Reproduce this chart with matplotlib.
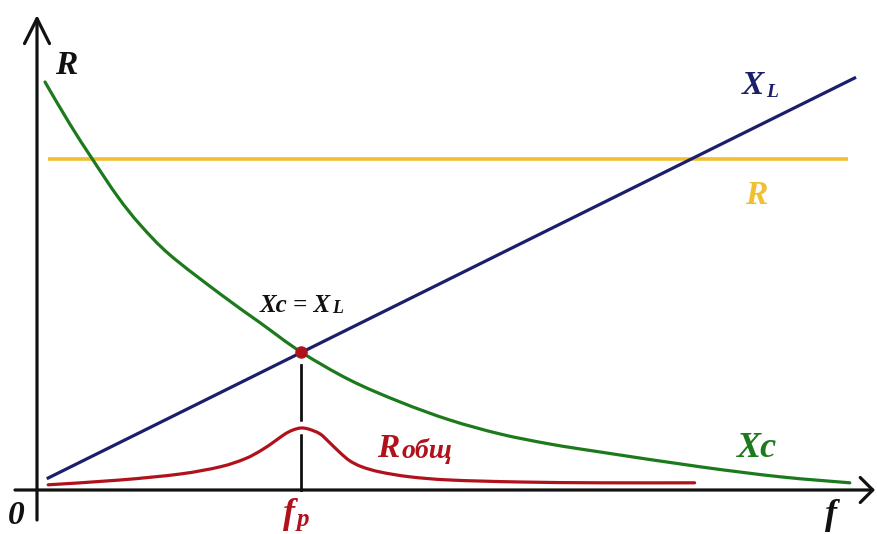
import numpy as np
import matplotlib.pyplot as plt
import matplotlib.patheffects as pe
from matplotlib.path import Path
from matplotlib.patches import PathPatch

plt.rcParams["font.family"] = ["Liberation Serif", "DejaVu Serif"]

# frequency f and resistance/reactance in arbitrary units
XL_F = [0.14, 10.22]
XL_VAL = [0.30, 10.30]

R_F = [0.14, 10.14]
R_VAL = [8.28, 8.28]

XC_F = [0.10, 0.41, 0.69, 1.01, 1.29, 1.66, 2.29, 2.79, 3.30, 3.91, 4.54,
        5.16, 5.79, 6.41, 7.04, 8.29, 9.29, 10.16]
XC_VAL = [10.20, 9.15, 8.28, 7.33, 6.63, 5.88, 4.90, 4.18, 3.45, 2.75, 2.20,
          1.75, 1.40, 1.15, 0.95, 0.58, 0.33, 0.18]

RT_F = [0.14, 1.04, 1.79, 2.29, 2.60, 2.81, 2.98, 3.10, 3.20, 3.30, 3.40,
        3.54, 3.66, 3.79, 3.91, 4.06, 4.29, 4.66, 5.16, 6.04, 7.04, 8.22]
RT_VAL = [0.13, 0.25, 0.40, 0.58, 0.78, 1.00, 1.23, 1.40, 1.50, 1.55, 1.52,
          1.40, 1.18, 0.93, 0.73, 0.58, 0.45, 0.33, 0.25, 0.20, 0.18, 0.18]

F_RES = 3.30      # resonance frequency f_p
X_RES = 3.45      # Xc = XL at resonance

NAVY = "#1b1f6b"
GOLD = "#f0c030"
GREEN = "#1c7a1c"
CRIMSON = "#b0121c"
INK = "#111111"


def smooth_curve(xs, ys, **kw):
    """Draw a curve through the points as Catmull-Rom style cubic Beziers."""
    p = np.column_stack([xs, ys]).astype(float)
    n = len(p)
    verts = [p[0]]
    codes = [Path.MOVETO]
    for i in range(n - 1):
        p0 = p[i - 1] if i > 0 else p[i]
        p1, p2 = p[i], p[i + 1]
        p3 = p[i + 2] if i + 2 < n else p[i + 1]
        verts += [p1 + (p2 - p0) / 6, p2 - (p3 - p1) / 6, p2]
        codes += [Path.CURVE4] * 3
    patch = PathPatch(Path(verts, codes), fill=False, capstyle="round",
                      joinstyle="round", **kw)
    ax.add_patch(patch)
    return patch


fig = plt.figure(figsize=(8.77, 5.34), dpi=100)
ax = fig.add_axes([0, 0, 1, 1])
ax.set_xlim(-0.4625, 10.5)
ax.set_ylim(-1.1, 12.25)
ax.axis("off")

# coordinate axes with open arrow heads
ax.annotate("", xy=(0, 11.875), xytext=(0, -0.75),
            arrowprops=dict(arrowstyle="->,head_length=0.9,head_width=0.45",
                            lw=2.3, color=INK, shrinkA=0, shrinkB=0,
                            mutation_scale=20), zorder=6)
ax.annotate("", xy=(10.475, 0), xytext=(-0.275, 0),
            arrowprops=dict(arrowstyle="->,head_length=0.45,head_width=0.45",
                            lw=2.3, color=INK, shrinkA=0, shrinkB=0,
                            mutation_scale=20), zorder=6)

# marker from the crossing point down to f_p
ax.plot([F_RES, F_RES], [X_RES - 0.33, 0], color=INK, lw=2.0, zorder=1)

ax.plot(R_F, R_VAL, color=GOLD, lw=2.6, solid_capstyle="butt", zorder=2)
smooth_curve(RT_F, RT_VAL, edgecolor=CRIMSON, lw=2.3, zorder=3,
             path_effects=[pe.Stroke(linewidth=9, foreground="white"), pe.Normal()])
smooth_curve(XC_F, XC_VAL, edgecolor=GREEN, lw=2.3, zorder=4)
ax.plot(XL_F, XL_VAL, color=NAVY, lw=2.3, zorder=4)
ax.plot([F_RES], [X_RES], "o", color=CRIMSON, ms=8, zorder=5)


def label(x, y, main, sub, color, size, sub_size):
    txt = ax.text(x, y, main, color=color, fontsize=size, fontweight="bold",
                  fontstyle="italic", ha="left", va="baseline", zorder=7)
    if sub:
        ax.annotate(sub, xy=(1, 0), xycoords=txt, xytext=(1.5, 0),
                    textcoords="offset points", color=color,
                    fontsize=sub_size, fontweight="bold", fontstyle="italic",
                    ha="left", va="bottom", zorder=7)
    return txt


label(0.23, 10.4, "R", None, INK, 24, 0)
label(8.81, 9.9, "X", "L", NAVY, 24, 14)
label(8.85, 7.15, "R", None, GOLD, 24, 0)
label(8.75, 0.82, "Xc", None, GREEN, 26, 0)
label(2.78, 4.45, "Xc = X", "L", INK, 18, 13)
label(4.25, 0.82, "R", "общ", CRIMSON, 24, 20)
label(-0.36, -0.85, "0", None, INK, 24, 0)
label(9.85, -0.86, "f", None, INK, 26, 0)
label(3.07, -0.82, "f", "p", CRIMSON, 26, 18)

fig.savefig("out.png", dpi=100)
